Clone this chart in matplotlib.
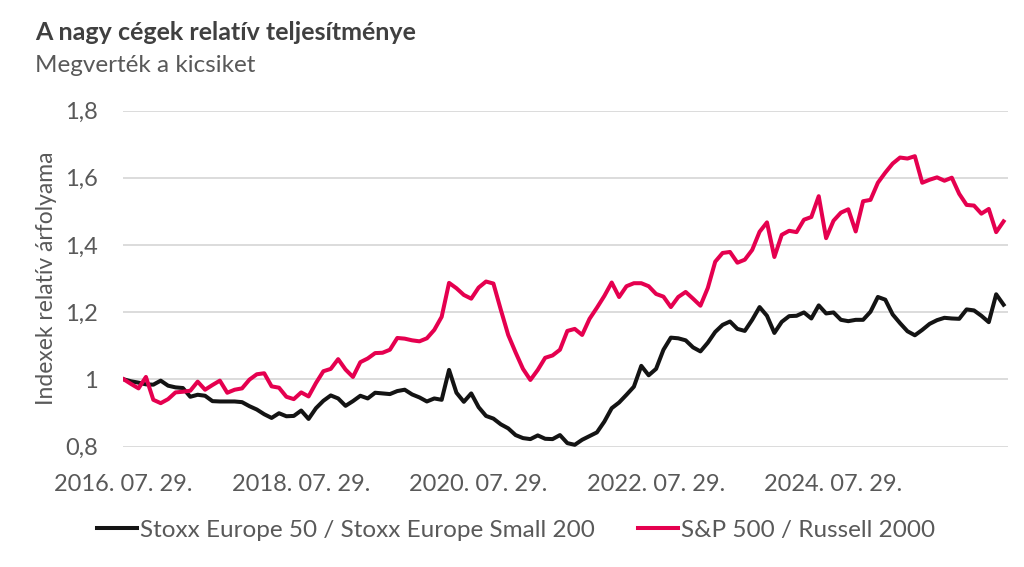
import numpy as np
import matplotlib.pyplot as plt

# monthly observations, 2016-07 .. 2026-06
stoxx = [1.000, 0.994, 0.990, 0.985, 0.984, 0.996, 0.981, 0.976, 0.974, 0.948,
         0.954, 0.951, 0.935, 0.934, 0.934, 0.934, 0.932, 0.920, 0.910, 0.896,
         0.885, 0.899, 0.890, 0.891, 0.907, 0.882, 0.914, 0.936, 0.952, 0.943,
         0.921, 0.935, 0.951, 0.943, 0.960, 0.958, 0.956, 0.965, 0.969, 0.955,
         0.946, 0.934, 0.943, 0.939, 1.028, 0.960, 0.933, 0.958, 0.917, 0.891,
         0.883, 0.866, 0.854, 0.834, 0.825, 0.822, 0.833, 0.823, 0.822, 0.834,
         0.810, 0.805, 0.820, 0.831, 0.842, 0.874, 0.914, 0.931, 0.954, 0.978,
         1.040, 1.012, 1.031, 1.088, 1.124, 1.122, 1.116, 1.095, 1.083, 1.109,
         1.141, 1.162, 1.172, 1.150, 1.144, 1.177, 1.215, 1.189, 1.138, 1.171,
         1.188, 1.189, 1.199, 1.181, 1.220, 1.196, 1.199, 1.177, 1.173, 1.177,
         1.177, 1.201, 1.245, 1.237, 1.193, 1.167, 1.143, 1.131, 1.147, 1.165,
         1.176, 1.183, 1.181, 1.180, 1.208, 1.205, 1.189, 1.170, 1.253, 1.222]

spx = [1.000, 0.986, 0.973, 1.007, 0.939, 0.929, 0.941, 0.961, 0.963, 0.966,
       0.993, 0.969, 0.983, 0.996, 0.960, 0.969, 0.973, 0.999, 1.015, 1.018,
       0.979, 0.975, 0.948, 0.941, 0.961, 0.949, 0.989, 1.024, 1.031, 1.060,
       1.029, 1.007, 1.051, 1.062, 1.078, 1.079, 1.088, 1.123, 1.121, 1.116,
       1.113, 1.122, 1.147, 1.186, 1.287, 1.271, 1.251, 1.240, 1.273, 1.291,
       1.285, 1.207, 1.132, 1.080, 1.031, 0.998, 1.028, 1.064, 1.071, 1.088,
       1.144, 1.150, 1.132, 1.180, 1.213, 1.248, 1.288, 1.245, 1.277, 1.286,
       1.286, 1.277, 1.254, 1.246, 1.215, 1.245, 1.260, 1.240, 1.219, 1.272,
       1.350, 1.376, 1.379, 1.347, 1.356, 1.385, 1.439, 1.467, 1.364, 1.430,
       1.442, 1.438, 1.475, 1.483, 1.545, 1.420, 1.472, 1.496, 1.506, 1.440,
       1.530, 1.534, 1.585, 1.615, 1.642, 1.660, 1.657, 1.664, 1.585, 1.594,
       1.601, 1.591, 1.600, 1.552, 1.519, 1.517, 1.493, 1.507, 1.438, 1.470]

tick_pos = [0, 24, 48, 72, 96]
tick_labels = ["2016. 07. 29.", "2018. 07. 29.", "2020. 07. 29.",
               "2022. 07. 29.", "2024. 07. 29."]
y_ticks = [0.8, 1.0, 1.2, 1.4, 1.6, 1.8]
y_labels = ["0,8", "1", "1,2", "1,4", "1,6", "1,8"]

plt.rcParams['font.family'] = ['Lato', 'DejaVu Sans']
grey = "#595959"

fig = plt.figure(figsize=(10.24, 5.67), dpi=100)
ax = fig.add_axes([123 / 1024, 1 - 446.5 / 567, (1008 - 123) / 1024, 336 / 567])

x = np.arange(len(stoxx))
ax.plot(x, stoxx, color="#141414", lw=2.9, label="Stoxx Europe 50 / Stoxx Europe Small 200",
        solid_joinstyle="round")
ax.plot(x, spx, color="#E5004F", lw=2.9, label="S&P 500 / Russell 2000",
        solid_joinstyle="round")

ax.set_xlim(-0.1, 119.6)
ax.set_ylim(0.8, 1.8)
ax.set_yticks(y_ticks)
ax.set_yticklabels(y_labels)
ax.set_xticks(tick_pos)
ax.set_xticklabels(tick_labels)
ax.grid(axis="y", color="#D9D9D9", lw=1.3)
ax.set_axisbelow(True)
for s in ax.spines.values():
    s.set_visible(False)
ax.tick_params(axis="both", length=0, labelsize=17, colors=grey)
ax.tick_params(axis="y", pad=18)
ax.tick_params(axis="x", pad=20)
ax.set_ylabel("Indexek relatív árfolyama", fontsize=16.5, color=grey, labelpad=6)

fig.text(35 / 1024, 1 - 32 / 567, "A nagy cégek relatív teljesítménye",
         fontsize=18, fontweight="bold", color="#404040", va="center")
fig.text(35 / 1024, 1 - 66 / 567, "Megverték a kicsiket",
         fontsize=17.5, color=grey, va="center")

ax.legend(loc="center", bbox_to_anchor=(516 / 1024, 1 - 530 / 567),
          bbox_transform=fig.transFigure, ncol=2, frameon=False, fontsize=17.5,
          handlelength=1.65, handletextpad=0.1, columnspacing=1.8,
          labelcolor=grey)

fig.savefig("out.png", dpi=100)
